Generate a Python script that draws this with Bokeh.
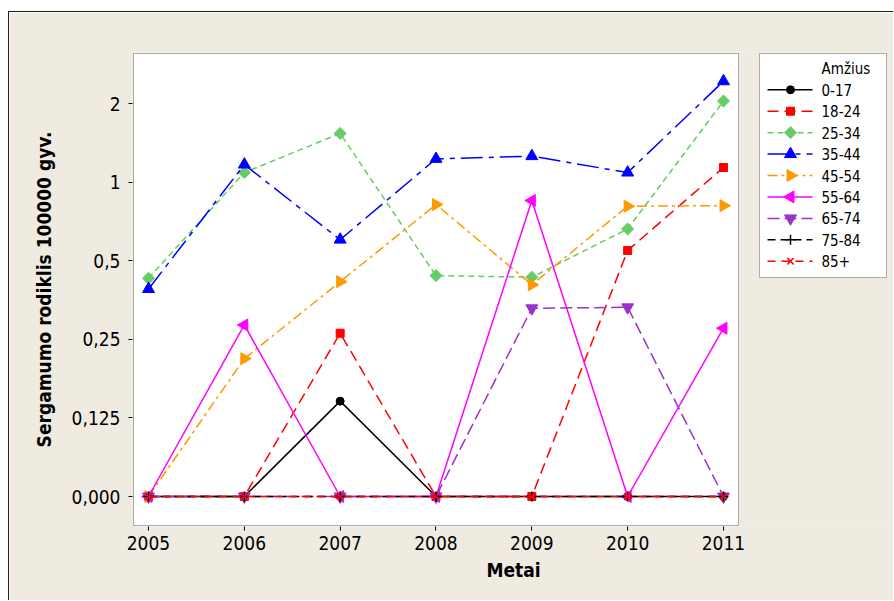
import math
from bokeh.plotting import figure
from bokeh.models import FixedTicker, BoxAnnotation
from bokeh.core.properties import value
from bokeh.embed import file_html
from bokeh.resources import INLINE

# ---------------- data ----------------
years = [2005, 2006, 2007, 2008, 2009, 2010, 2011]
groups = ["0-17", "18-24", "25-34", "35-44", "45-54", "55-64", "65-74", "75-84", "85+"]

rate_0_17 = [0, 0, 0.145, 0, 0, 0, 0]
rate_18_24 = [0, 0, 0.264, 0, 0, 0.548, 1.14]
rate_25_34 = [0.429, 1.09, 1.54, 0.439, 0.433, 0.663, 2.05]
rate_35_44 = [0.390, 1.17, 0.603, 1.23, 1.26, 1.09, 2.44]
rate_45_54 = [0, 0.211, 0.416, 0.822, 0.405, 0.810, 0.814]
rate_55_64 = [0, 0.284, 0, 0, 0.852, 0, 0.276]
rate_65_74 = [0, 0, 0, 0, 0.329, 0.332, 0]
rate_75_84 = [0, 0, 0, 0, 0, 0, 0]
rate_85 = [0, 0, 0, 0, 0, 0, 0]
series = [rate_0_17, rate_18_24, rate_25_34, rate_35_44, rate_45_54,
          rate_55_64, rate_65_74, rate_75_84, rate_85]

y_tick_values = [0, 0.125, 0.25, 0.5, 1, 2]
y_tick_labels = ["0,000", "0,125", "0,25", "0,5", "1", "2"]
x_label = "Metai"
y_label = "Sergamumo rodiklis 100000 gyv."
legend_title = "Amžius"

# ---------------- styles ----------------
# (color, dash, marker, size, angle)
styles = [
    ("black", "solid", "circle", 8, 0),
    ("#FF0000", "11 6", "square", 8, 0),
    ("#66CC66", "6 4", "square", 8.5, math.pi / 4),
    ("#0000FF", "22 6 5 6", "triangle", 12, 0),
    ("#FF9900", "10 4 3 4", "triangle", 12, -math.pi / 2),
    ("#FF00FF", "solid", "triangle", 12, math.pi / 2),
    ("#9933CC", "12 5", "inverted_triangle", 12, 0),
    ("black", "8 5", "cross", 10, 0),
    ("#FF0000", "8 6", "x", 9, 0),
]
FONT = "DejaVu Sans Condensed"
BG = "#EFEBE1"


def tr(v):
    # the axis is log2; a zero rate is shown one step below 0,125
    return math.log2(v) if v > 0 else -4.0


# layout helpers: picture pixels -> axis units (2005 at x=148, 95.83 px/year;
# value 0 at y=496, 78.54 px per doubling)
def px2x(px):
    return 2005 + (px - 148) / 95.83


def px2y(py):
    return -4 + (496 - py) / 78.54


p = figure(width=885, height=589, output_backend="svg", toolbar_location=None,
           x_range=(px2x(132), px2x(894)), y_range=(px2y(526), px2y(52)),
           min_border_left=123, min_border_top=40, min_border_right=0,
           min_border_bottom=75)
p.styles = {"border-left": "1px solid #1E1E1E", "border-top": "1px solid #1E1E1E",
            "margin-top": "11px", "margin-left": "8px"}
p.border_fill_color = BG
p.background_fill_color = BG
p.outline_line_color = None
p.xgrid.visible = False
p.ygrid.visible = False

# white plotting box
p.add_layout(BoxAnnotation(left=px2x(133), right=px2x(738), top=px2y(53), bottom=px2y(525),
                           fill_color="white", fill_alpha=1, line_color="black",
                           line_width=1, level="underlay"))

p.xaxis.ticker = FixedTicker(ticks=years)
yt = [int(round(tr(v))) for v in y_tick_values]
p.yaxis.ticker = FixedTicker(ticks=yt)
p.yaxis.major_label_overrides = {k: lab for k, lab in zip(yt, y_tick_labels)}

for ax in (p.xaxis[0], p.yaxis[0]):
    ax.axis_line_color = None
    ax.major_tick_line_color = "black"
    ax.major_tick_out = 4
    ax.major_tick_in = 0
    ax.minor_tick_line_color = None
    ax.major_label_text_font = FONT
    ax.major_label_text_font_size = "19px"
    ax.major_label_text_color = "black"
    ax.axis_label_text_font = FONT
    ax.axis_label_text_font_size = "19px"
    ax.axis_label_text_font_style = "bold"
    ax.axis_label_text_color = "black"

p.xaxis.axis_label = x_label
p.yaxis.axis_label = y_label
p.xaxis.major_label_standoff = 5
p.yaxis.major_label_standoff = 8
p.xaxis.axis_label_standoff = 6
p.yaxis.axis_label_standoff = 14

for vals, (col, dash, mk, sz, ang) in zip(series, styles):
    ys = [tr(v) for v in vals]
    p.line(years, ys, line_color=col, line_dash=dash, line_width=1.5)
    p.scatter(years, ys, marker=mk, size=sz, angle=ang,
              fill_color=col, line_color=col,
              line_width=1.5 if mk in ("cross", "x") else 1)

# ---------------- legend (box at x 759..886, y 53..277) ----------------
p.add_layout(BoxAnnotation(left=px2x(759), right=px2x(886), top=px2y(53), bottom=px2y(277),
                           fill_color="white", fill_alpha=1, line_color="black",
                           line_width=1, level="underlay"))
p.text(x=[px2x(821)], y=[px2y(68)], text=[legend_title], text_font=value(FONT),
       text_font_size="15px", text_baseline="middle", text_align="left",
       text_color="black")
row_y = [px2y(89.3 + 21.43 * i) for i in range(len(groups))]
for g, ry, (col, dash, mk, sz, ang) in zip(groups, row_y, styles):
    p.segment(x0=[px2x(767)], y0=[ry], x1=[px2x(812)], y1=[ry],
              line_color=col, line_dash=dash, line_width=1.5)
    p.scatter([px2x(790)], [ry], marker=mk, size=sz, angle=ang,
              fill_color=col, line_color=col,
              line_width=1.5 if mk in ("cross", "x") else 1)
    p.text(x=[px2x(821)], y=[ry], text=[g], text_font=value(FONT),
           text_font_size="15px", text_baseline="middle", text_align="left",
           text_color="black")

open("out.html", "w").write(file_html(p, INLINE))
